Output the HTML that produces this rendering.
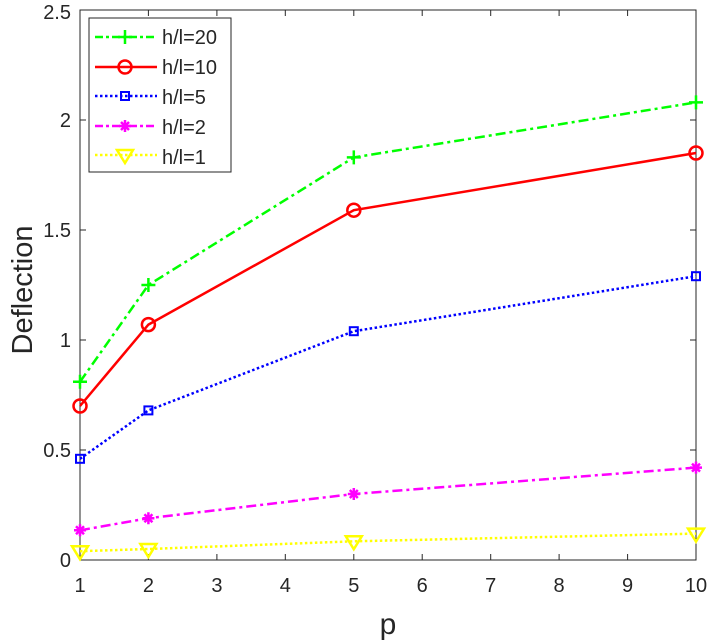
<!DOCTYPE html>
<html><head><style>body{margin:0;background:#fff}svg{display:block}text{font-family:"Liberation Sans",Arial,sans-serif;fill:#262626}</style></head>
<body>
<svg width="714" height="644" viewBox="0 0 714 644" xmlns="http://www.w3.org/2000/svg">
<rect x="80" y="10" width="616" height="550" fill="#fff" stroke="#262626" stroke-width="1"/>
<g stroke="#262626" stroke-width="1">
<line x1="148.4" y1="560" x2="148.4" y2="554"/><line x1="216.9" y1="560" x2="216.9" y2="554"/><line x1="285.3" y1="560" x2="285.3" y2="554"/><line x1="353.8" y1="560" x2="353.8" y2="554"/><line x1="422.2" y1="560" x2="422.2" y2="554"/><line x1="490.7" y1="560" x2="490.7" y2="554"/><line x1="559.1" y1="560" x2="559.1" y2="554"/><line x1="627.6" y1="560" x2="627.6" y2="554"/>
<line x1="148.4" y1="10" x2="148.4" y2="16"/><line x1="216.9" y1="10" x2="216.9" y2="16"/><line x1="285.3" y1="10" x2="285.3" y2="16"/><line x1="353.8" y1="10" x2="353.8" y2="16"/><line x1="422.2" y1="10" x2="422.2" y2="16"/><line x1="490.7" y1="10" x2="490.7" y2="16"/><line x1="559.1" y1="10" x2="559.1" y2="16"/><line x1="627.6" y1="10" x2="627.6" y2="16"/>
<line x1="80" y1="450" x2="86" y2="450"/><line x1="80" y1="340" x2="86" y2="340"/><line x1="80" y1="230" x2="86" y2="230"/><line x1="80" y1="120" x2="86" y2="120"/>
<line x1="696" y1="450" x2="690" y2="450"/><line x1="696" y1="340" x2="690" y2="340"/><line x1="696" y1="230" x2="690" y2="230"/><line x1="696" y1="120" x2="690" y2="120"/>
</g>
<g font-size="20" text-anchor="middle">
<text x="80" y="592">1</text><text x="148.4" y="592">2</text><text x="216.9" y="592">3</text><text x="285.3" y="592">4</text><text x="353.8" y="592">5</text><text x="422.2" y="592">6</text><text x="490.7" y="592">7</text><text x="559.1" y="592">8</text><text x="627.6" y="592">9</text><text x="696" y="592">10</text>
</g>
<g font-size="20" text-anchor="end">
<text x="71" y="567">0</text><text x="71" y="457">0.5</text><text x="71" y="347">1</text><text x="71" y="237">1.5</text><text x="71" y="127">2</text><text x="71" y="19">2.5</text>
</g>
<text x="388" y="634" font-size="30" text-anchor="middle">p</text>
<text transform="translate(32,290) rotate(-90)" font-size="29" text-anchor="middle">Deflection</text>
<polyline points="80,381.8 148.4,285 353.8,157.4 696,102.4" fill="none" stroke="#00ff00" stroke-width="2.5" stroke-dasharray="10,4,3,4"/>
<g stroke="#00ff00" stroke-width="2.5">
<path d="M73,381.8h14M80,374.8v14"/><path d="M141.4,285h14M148.4,278v14"/><path d="M346.8,157.4h14M353.8,150.4v14"/><path d="M689,102.4h14M696,95.4v14"/></g>
<polyline points="80,406 148.4,324.6 353.8,210.2 696,153" fill="none" stroke="#ff0000" stroke-width="2.5"/>
<g fill="none" stroke="#ff0000" stroke-width="2.5"><circle cx="80" cy="406" r="6.5"/><circle cx="148.4" cy="324.6" r="6.5"/><circle cx="353.8" cy="210.2" r="6.5"/><circle cx="696" cy="153" r="6.5"/></g>
<polyline points="80,458.8 148.4,410.4 353.8,331.2 696,276.2" fill="none" stroke="#0000ff" stroke-width="2.5" stroke-dasharray="2.5,2.5"/>
<g fill="none" stroke="#0000ff" stroke-width="2"><rect x="76" y="454.8" width="8" height="8"/><rect x="144.4" y="406.4" width="8" height="8"/><rect x="349.8" y="327.2" width="8" height="8"/><rect x="692" y="272.2" width="8" height="8"/></g>
<polyline points="80,530.3 148.4,518.2 353.8,494 696,467.6" fill="none" stroke="#ff00ff" stroke-width="2.5" stroke-dasharray="10,4,3,4"/>
<g stroke="#ff00ff" stroke-width="2.5">
<path d="M74,530.3h12M80,524.3v12M76,526.3l8,8M84,526.3l-8,8"/><path d="M142.4,518.2h12M148.4,512.2v12M144.4,514.2l8,8M152.4,514.2l-8,8"/><path d="M347.8,494h12M353.8,488v12M349.8,490l8,8M357.8,490l-8,8"/><path d="M690,467.6h12M696,461.6v12M692,463.6l8,8M700,463.6l-8,8"/></g>
<polyline points="80,551.2 148.4,549 353.8,541.3 696,533.6" fill="none" stroke="#ffff00" stroke-width="2.5" stroke-dasharray="2.5,2.5"/>
<g fill="none" stroke="#ffff00" stroke-width="2.5"><path d="M72,546.2h16l-8,13z"/><path d="M140.4,544h16l-8,13z"/><path d="M345.8,536.3h16l-8,13z"/><path d="M688,528.6h16l-8,13z"/></g>
<rect x="89" y="18" width="142" height="154" fill="#fff" stroke="#262626" stroke-width="1"/>
<g font-size="20"><text x="162" y="44">h/l=20</text><text x="162" y="74">h/l=10</text><text x="162" y="104">h/l=5</text><text x="162" y="134">h/l=2</text><text x="162" y="164">h/l=1</text></g>
<line x1="95" y1="37" x2="157" y2="37" stroke="#00ff00" stroke-width="2.5" stroke-dasharray="8,3,3,3"/><path d="M118,37h14M125,30v14" stroke="#00ff00" stroke-width="2.5"/>
<line x1="95" y1="67" x2="157" y2="67" stroke="#ff0000" stroke-width="2.5"/><circle cx="125" cy="67" r="6.5" fill="none" stroke="#ff0000" stroke-width="2.5"/>
<line x1="95" y1="96" x2="157" y2="96" stroke="#0000ff" stroke-width="2.5" stroke-dasharray="2.5,2.5"/><rect x="121" y="92" width="8" height="8" fill="none" stroke="#0000ff" stroke-width="2"/>
<line x1="95" y1="126" x2="157" y2="126" stroke="#ff00ff" stroke-width="2.5" stroke-dasharray="8,3,3,3"/><path d="M119,126h12M125,120v12M121,122l8,8M129,122l-8,8" stroke="#ff00ff" stroke-width="2.5"/>
<line x1="95" y1="155" x2="157" y2="155" stroke="#ffff00" stroke-width="2.5" stroke-dasharray="2.5,2.5"/><path d="M117,150h16l-8,13z" fill="none" stroke="#ffff00" stroke-width="2.5"/>
</svg>
</body></html>
